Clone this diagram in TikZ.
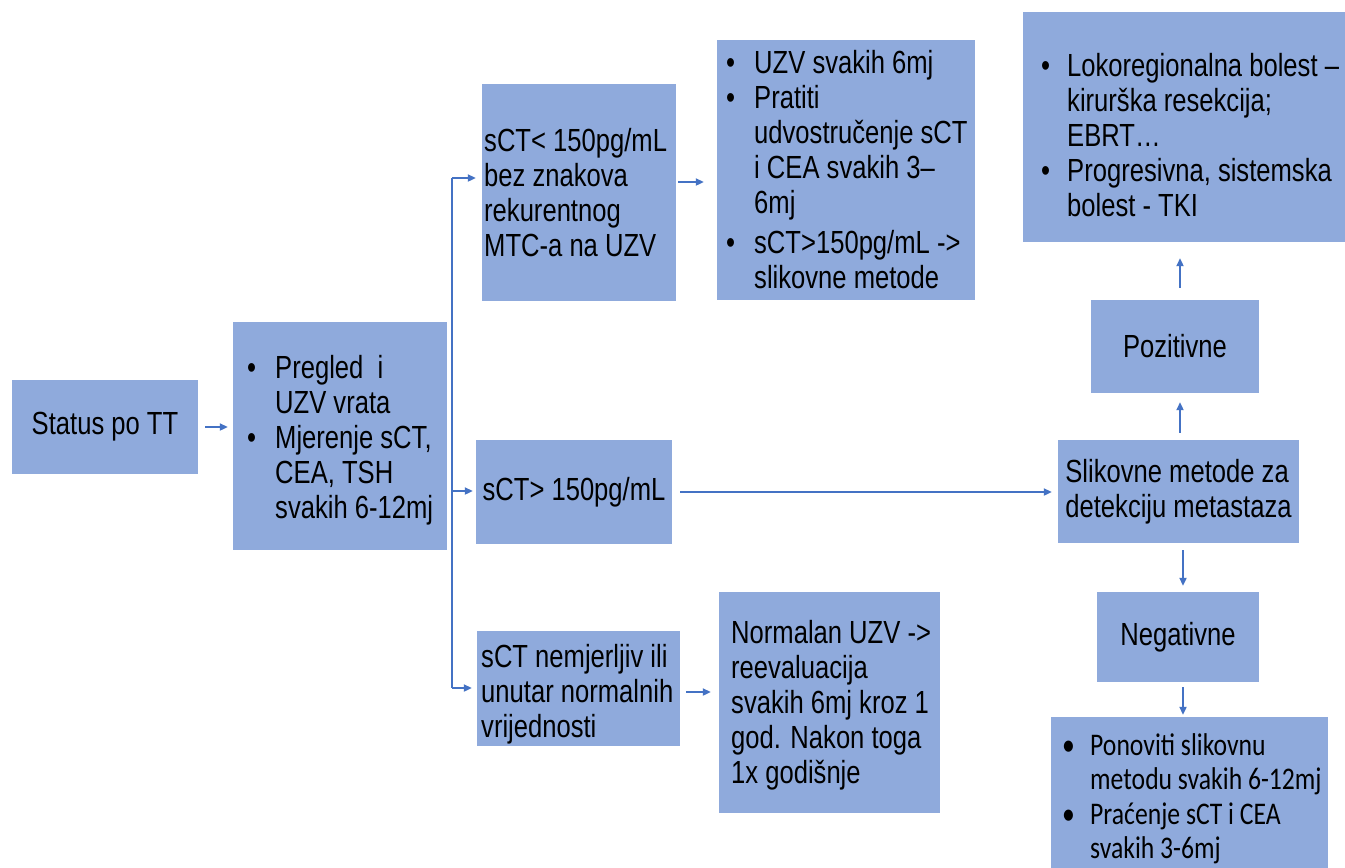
\documentclass[tikz,border=0pt]{standalone}
\usepackage{fontspec}
\setmainfont{Liberation Sans}[FakeStretch=0.80]
\newfontfamily\calibrifont{Carlito}[FakeStretch=0.815]
\usetikzlibrary{arrows.meta}
\definecolor{boxblue}{HTML}{8FAADC}
\definecolor{arrowblue}{HTML}{4472C4}
\newcommand\fsmain{\fontsize{32}{35}\selectfont}
\newcommand\fscal{\calibrifont\fontsize{31.5}{34.5}\selectfont}
\newcommand\bul[1][28pt]{\makebox[#1][l]{\textbullet}}
\newcommand\ind[1][28pt]{\hspace*{#1}}
\begin{document}
\begin{tikzpicture}[x=1pt,y=-1pt,
  box/.style={fill=boxblue, draw=none, inner sep=0pt, font=\fsmain, align=center},
  txt/.style={inner sep=0pt, align=left, anchor=west, font=\fsmain, text=black},
  arr/.style={draw=arrowblue, line width=2pt, -{Triangle[length=8pt,width=7pt]}},
  trunkline/.style={draw=arrowblue, line width=2pt}]
\useasboundingbox (0,0) rectangle (1345,868);
\fill[white] (0,0) rectangle (1345,868);

% boxes
\node[box, minimum width=186pt, minimum height=94pt] (status) at (105,427) {Status po TT};
\node[box, minimum width=214pt, minimum height=228pt] (pregled) at (340,436) {};
\node[box, minimum width=194pt, minimum height=217pt] (sctlt) at (579,192.5) {};
\node[box, minimum width=258pt, minimum height=260pt] (uzv) at (846,170) {};
\node[box, minimum width=196pt, minimum height=104pt] (sctgt) at (574,492) {sCT> 150pg/mL};
\node[box, minimum width=203pt, minimum height=115pt] (sctnm) at (578.5,688.5) {};
\node[box, minimum width=221pt, minimum height=221pt] (normalan) at (829.5,702.5) {};
\node[box, minimum width=322pt, minimum height=230pt] (topright) at (1184,127) {};
\node[box, minimum width=168pt, minimum height=93pt] (pozitivne) at (1175,346.5) {Pozitivne};
\node[box, minimum width=241pt, minimum height=103pt, align=left] (slikovne) at (1178.5,491.5) {Slikovne metode za\\detekciju metastaza};
\node[box, minimum width=162pt, minimum height=90pt] (negativne) at (1178,637) {Negativne};
\node[box, minimum width=277pt, minimum height=151pt] (bottom) at (1189.5,792.5) {};

% texts
\node[txt] (tpregled) at (247,440) {\bul Pregled\ \ i\\ \ind UZV vrata\\ \bul Mjerenje sCT,\\ \ind CEA, TSH\\ \ind svakih 6-12mj};
\node[txt] (tsctlt) at (484,192.5) {sCT< 150pg/mL\\bez znakova\\rekurentnog\\MTC-a na UZV};
\node[txt] (tuzv) at (726,170) {\bul UZV svakih 6mj\\ \bul Pratiti\\ \ind udvostručenje sCT\\ \ind i CEA svakih 3–\\ \ind 6mj\\[5pt] \bul sCT>150pg/mL ->\\ \ind slikovne metode};
\node[txt] (tsctnm) at (481,694) {sCT nemjerljiv ili\\unutar normalnih\\vrijednosti};
\node[txt] (tnormalan) at (731,705) {Normalan UZV ->\\reevaluacija\\svakih 6mj kroz 1\\god. Nakon toga\\1x godišnje};
\node[txt] (ttopright) at (1041,135) {\bul[26pt]Lokoregionalna bolest –\\ \ind[26pt]kirurška resekcija;\\ \ind[26pt]EBRT…\\ \bul[26pt]Progresivna, sistemska\\ \ind[26pt]bolest - TKI};
\node[txt, font=\fscal] (tbottom) at (1062,799) {\bul[28pt]Ponoviti slikovnu\\ \ind[28pt]metodu svakih 6-12mj\\ \bul[28pt]Praćenje sCT i CEA\\ \ind[28pt]svakih 3-6mj};

% trunk coordinates
\coordinate (tTop) at (452,178);
\coordinate (tMid) at (452,491);
\coordinate (tBot) at (452,688);
\coordinate (ya) at (0,182);
\coordinate (yb) at (0,692);
\coordinate (xr) at (1180,0);
\coordinate (xd) at (1183,0);

% connectors
\draw[arr, shorten <=7pt, shorten >=5pt] (status.east) -- (pregled.west |- status.east);
\draw[trunkline] (tTop) -- (tBot);
\draw[arr, shorten >=6pt] (tTop) -- (sctlt.west |- tTop);
\draw[arr, shorten >=3pt] (tMid) -- (sctgt.west |- tMid);
\draw[arr, shorten >=5pt] (tBot) -- (sctnm.west |- tBot);
\draw[arr, shorten <=2pt, shorten >=13pt] (sctlt.east |- ya) -- (uzv.west |- ya);
\draw[arr, shorten <=6pt, shorten >=8pt] (sctnm.east |- yb) -- (normalan.west |- yb);
\draw[arr, shorten <=8pt, shorten >=6pt] (sctgt.east) -- (slikovne.west |- sctgt.east);
\draw[arr, shorten <=7pt, shorten >=9pt] (slikovne.north -| xr) -- (pozitivne.south -| xr);
\draw[arr, shorten <=12pt, shorten >=16pt] (pozitivne.north -| xr) -- (topright.south -| xr);
\draw[arr, shorten <=7pt, shorten >=6pt] (slikovne.south -| xd) -- (negativne.north -| xd);
\draw[arr, shorten <=5pt, shorten >=2pt] (negativne.south -| xd) -- (bottom.north -| xd);
\end{tikzpicture}
\end{document}
